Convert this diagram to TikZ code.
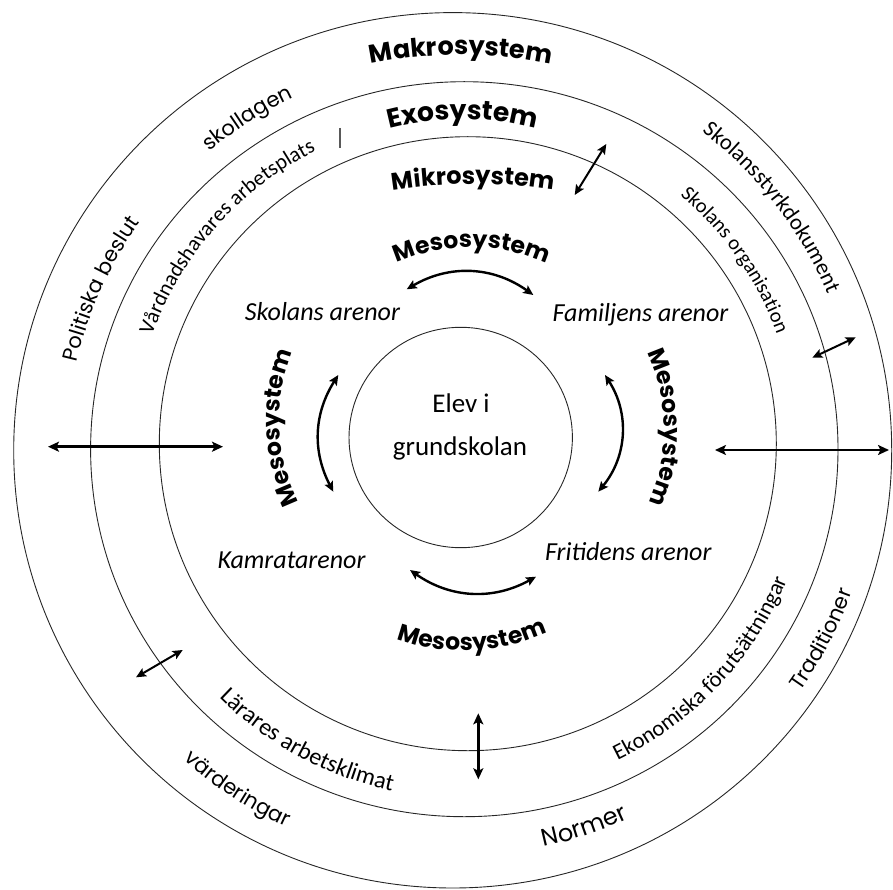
\documentclass[tikz,border=0pt]{standalone}
\usepackage{fontspec}
\setmainfont{Carlito}
\newfontfamily\gothfont{Poppins}
\usetikzlibrary{decorations.text,arrows.meta}
\tikzset{
  ring/.style={draw=black!85, line width=0.9pt},
  dblarrow/.style={line width=2.6pt, {Stealth[length=11pt,width=10pt,inset=2.5pt]}-{Stealth[length=11pt,width=10pt,inset=2.5pt]}},
  thinarrow/.style={line width=2pt, {Stealth[length=10pt,width=9pt,inset=2pt]}-{Stealth[length=10pt,width=9pt,inset=2pt]}},
  mesoarrow/.style={line width=2.4pt, {Stealth[length=10pt,width=9pt,inset=2pt]}-{Stealth[length=10pt,width=9pt,inset=2pt]}},
  tickline/.style={draw=black!65, line width=1.3pt},
  arena/.style={font=\fontsize{26}{30}\selectfont\itshape, inner sep=0pt},
  elevtxt/.style={font=\fontsize{27}{32}\selectfont, inner sep=0pt},
}
\newcommand\fMakro{\gothfont\bfseries\fontsize{25.5}{30}\selectfont}
\newcommand\fExo{\gothfont\bfseries\fontsize{26.5}{32}\selectfont}
\newcommand\fMikro{\gothfont\bfseries\fontsize{24}{30}\selectfont}
\newcommand\fMeso{\gothfont\bfseries\fontsize{23.5}{28}\selectfont}
\newcommand\fGoth{\gothfont\fontsize{21}{26}\selectfont}
\newcommand\fNorm{\gothfont\fontsize{24}{28}\selectfont}
\newcommand\fSty{\fontsize{22.5}{26}\selectfont}
\newcommand\fVard{\fontsize{21.5}{26}\selectfont}
\newcommand\fOrg{\fontsize{20.5}{24}\selectfont}
\newcommand\fLar{\fontsize{24}{28}\selectfont}
\newcommand\fEko{\fontsize{22.5}{26}\selectfont}
% text along a clockwise arc (letters face outward)
\newcommand\ArcCW[6]{%
  \path[decorate,decoration={text along path,text align=center,text={|#1|#6}}]
    (#2) ++(#4+#5:#3pt) arc[start angle=#4+#5,end angle=#4-#5,radius=#3pt];}
% text along a counterclockwise arc (letters face the centre)
\newcommand\ArcCCW[6]{%
  \path[decorate,decoration={text along path,text align=center,text={|#1|#6}}]
    (#2) ++(#4-#5:#3pt) arc[start angle=#4-#5,end angle=#4+#5,radius=#3pt];}
\begin{document}
\begin{tikzpicture}[x=1pt,y=1pt]
\useasboundingbox (0,0) rectangle (893,-890);
% circles
\draw[ring] (460.7,-437.5) ellipse [x radius=111.7pt, y radius=110.2pt];
\draw[ring] (467.8,-443.7) ellipse [x radius=308.5pt, y radius=307pt];
\draw[ring] (464.3,-449.2) ellipse [x radius=373.7pt, y radius=367.5pt];
\draw[ring] (452.7,-450.3) ellipse [x radius=439pt, y radius=437.7pt];

% centre texts
\node[elevtxt, anchor=base] (elev) at (461,-412.7) {Elev i};
\node[elevtxt, anchor=base] (grund) at (460,-455) {grundskolan};
\node[arena, anchor=base] (skolans) at (322.5,-320) {Skolans arenor};
\node[arena, anchor=base] (familjens) at (640.5,-321.7) {Familjens arenor};
\node[arena, anchor=base] (kamrat) at (291.5,-568.3) {Kamratarenor};
\node[arena, anchor=base] (fritid) at (628.3,-560) {Fritidens arenor};

% system labels
\ArcCW{\fMakro}{461,-505}{450}{90}{16}{Makrosystem}
\ArcCW{\fExo}{462.5,-409.3}{290}{90}{20}{Exosystem}
\ArcCW{\fMikro}{473,-704}{520}{90}{12}{Mikrosystem}
\ArcCW{\fMeso}{470.7,-429.8}{182.5}{89.6}{30}{Mesosystem}
\ArcCW{\fMeso}{462,-420.5}{182.5}{182.3}{30}{Mesosystem}
\ArcCW{\fMeso}{481.8,-429.7}{182.5}{0.7}{30}{Mesosystem}
\ArcCCW{\fMeso}{464.4,-453.3}{197.5}{-87.6}{30}{Mesosystem}

% makro band
\ArcCW{\fGoth}{458,-450}{388.5}{122.4}{12}{skollagen}
\ArcCW{\fGoth}{458,-450}{391}{155.7}{15}{Politiska beslut}
\ArcCW{\fSty}{458,-450}{401}{37.7}{20}{Skolansstyrkdokument}
\ArcCCW{\fGoth}{458,-450}{419}{-27.5}{12}{Traditioner}
\ArcCCW{\fNorm}{458,-450}{406}{-71.5}{10}{Normer}
\ArcCCW{\fGoth}{458,-450}{414}{237}{12}{värderingar}

% exo band
\ArcCW{\fVard}{465,-448}{332.5}{138.45}{28}{Vårdnadshavares arbetsplats}
\ArcCW{\fOrg}{465,-448}{332}{34.85}{20}{Skolans organisation}
\ArcCCW{\fLar}{465,-448}{350.5}{241.7}{22}{Lärares arbetsklimat}
\ArcCCW{\fEko}{465,-448}{348}{-43.15}{27}{Ekonomiska förutsättningar}

% straight arrows
\coordinate (hl1) at (48,-446.7);   \coordinate (hl2) at (223,-446.7);
\coordinate (hr1) at (715,-450);    \coordinate (hr2) at (889,-450);
\coordinate (dt1) at (574.7,-195);  \coordinate (dt2) at (606.3,-144);
\coordinate (dr1) at (812.3,-357.7);\coordinate (dr2) at (855.7,-337.3);
\coordinate (dl1) at (136,-677.3);  \coordinate (dl2) at (182.7,-650);
\coordinate (vb1) at (478.3,-713.3);\coordinate (vb2) at (478.3,-779.3);
\coordinate (tk1) at (340,-128);    \coordinate (tk2) at (340,-148);
\draw[dblarrow] (hl1) -- (hl2);
\draw[dblarrow] (hr1) -- (hr2);
\draw[thinarrow] (dt1) -- (dt2);
\draw[thinarrow] (dr1) -- (dr2);
\draw[thinarrow] (dl1) -- (dl2);
\draw[dblarrow] (vb1) -- (vb2);
\draw[tickline] (tk1) -- (tk2);

% mesosystem arrows
\coordinate (mt1) at (406.7,-289.3); \coordinate (mt2) at (533.3,-295);
\coordinate (ml1) at (338.3,-375);   \coordinate (ml2) at (333.3,-491.7);
\coordinate (mr1) at (605,-375);     \coordinate (mr2) at (598.3,-491.7);
\coordinate (mb1) at (410,-570);     \coordinate (mb2) at (536,-576.7);
\draw[mesoarrow] (mt1) to[bend left=33] (mt2);
\draw[mesoarrow] (ml1) to[bend right=30] (ml2);
\draw[mesoarrow] (mr1) to[bend left=36] (mr2);
\draw[mesoarrow] (mb1) to[bend right=32] (mb2);
\end{tikzpicture}
\end{document}
